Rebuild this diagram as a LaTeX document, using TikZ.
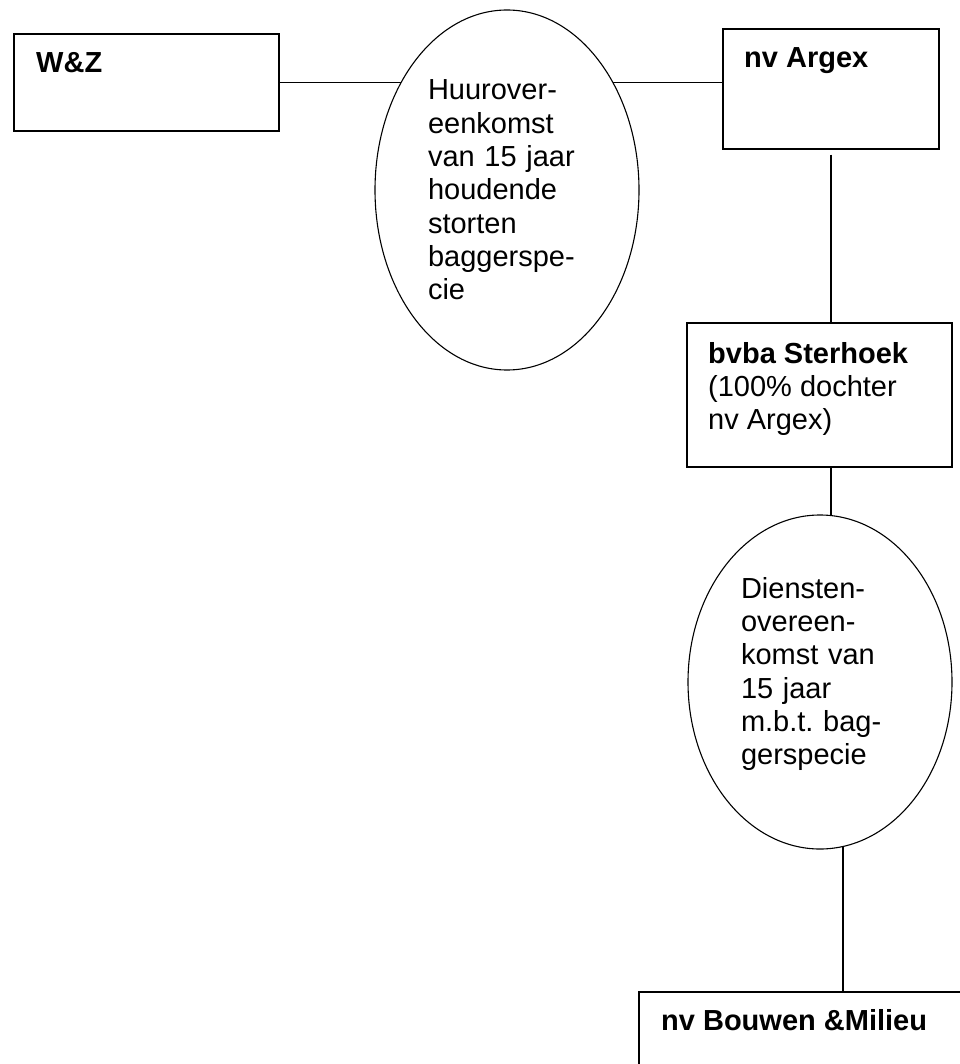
\documentclass[tikz,border=0pt]{standalone}
\usepackage{fontspec}
\setmainfont{Liberation Sans}
\usetikzlibrary{shapes.geometric,backgrounds}
\frenchspacing
\begin{document}
\frenchspacing
\begin{tikzpicture}[x=1pt,y=-1pt,
  box/.style={draw,line width=1.3pt,rectangle,inner sep=0pt},
  oval/.style={draw,line width=1.1pt,ellipse,fill=white,inner sep=0pt,align=left,
    font=\fontsize{29pt}{33.3pt}\selectfont},
  lbl/.style={inner sep=0pt,font=\fontsize{29pt}{33.3pt}\selectfont},
  boldlbl/.style={inner sep=0pt,font=\fontsize{29pt}{33.3pt}\selectfont\bfseries},
  conn/.style={line width=1.2pt}]
\useasboundingbox (0,0) rectangle (959,1064);

% boxes
\node[box,minimum width=265pt,minimum height=97pt] (wz) at (146.5,82.5) {};
\node[box,minimum width=216pt,minimum height=120pt] (arg) at (831,89) {};
\node[box,minimum width=265pt,minimum height=144pt] (bv) at (819.5,395) {};
\node[box,minimum width=336pt,minimum height=98pt] (bm) at (807,1041) {};

% box texts
\node[boldlbl,anchor=base west] (wzt) at (36,73) {W\&Z};
\node[boldlbl,anchor=base west] (argt) at (744,68) {nv Argex};
\node[lbl,anchor=north west,align=left] (bvt) at (708,342)
  {\textbf{bvba Sterhoek}\\(100\% dochter\\nv Argex)};
\node[boldlbl,anchor=base west] (bmt) at (661,1030) {nv Bouwen \&Milieu};

% ellipses
\node[oval,minimum width=264pt,minimum height=360pt,text width=158pt] (e1) at (507,190)
  {Huurover-\\eenkomst\\van 15 jaar\\houdende\\storten\\baggerspe-\\cie};
\node[oval,minimum width=264pt,minimum height=334pt,text width=158pt,text depth=188.5pt] (e2) at (820,682)
  {Diensten-\\overeen-\\komst van\\15 jaar\\m.b.t. bag-\\gerspecie};

% connectors
\begin{scope}[on background layer]
\draw[conn] (wz.east) -- (wz.east -| e1.center);
\draw[conn] (wz.east -| e1.center) -- (wz.east -| arg.west);
\draw[conn] ([yshift=-5pt]arg.south) -- (arg.south |- bv.north);
\draw[conn] (arg.south |- bv.south) -- (arg.south |- e2.center);
\draw[conn] ([xshift=23pt]e2.center) -- ([xshift=23pt]e2.center |- bm.north);
\end{scope}
\end{tikzpicture}
\end{document}
